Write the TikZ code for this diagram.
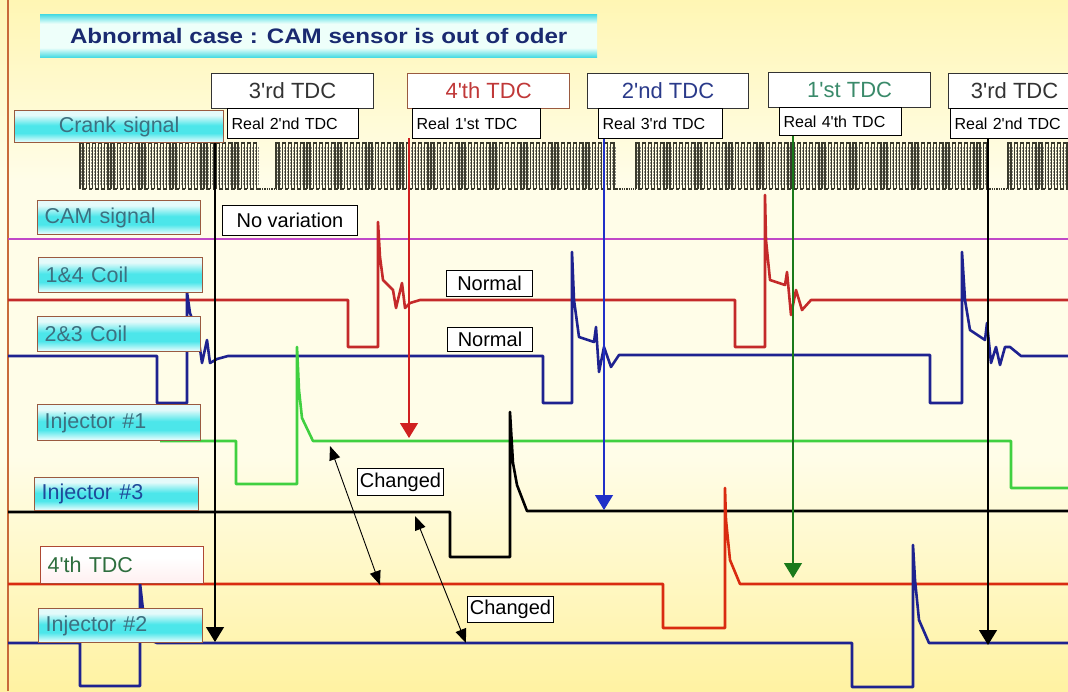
\documentclass[tikz,border=0pt]{standalone}
\usepackage{fontspec}
\usepackage{graphicx}
\setmainfont{Liberation Sans}
\usetikzlibrary{arrows.meta}
\newcommand\ap{\textquotesingle}
\definecolor{bgtop}{HTML}{FFF6B4}
\definecolor{bgmid}{HTML}{FFFDE8}
\definecolor{bgbot}{HTML}{FFF2A2}
\definecolor{tcyan}{HTML}{46DAE2}
\definecolor{tlight}{HTML}{EEFFFA}
\definecolor{lcyan}{HTML}{4CE6EA}
\definecolor{llight}{HTML}{E4FAFA}
\definecolor{lwhite}{HTML}{F6FFFF}
\definecolor{pinkish}{HTML}{FFEFF0}
\definecolor{boxbrown}{HTML}{9A5A40}
\definecolor{lbltext}{HTML}{3D7080}
\definecolor{lbltextb}{HTML}{1F4A9A}
\definecolor{titletext}{HTML}{1A2A70}
\definecolor{borderc}{HTML}{C86A3A}
\definecolor{crankc}{HTML}{3A3A2C}
\definecolor{camc}{HTML}{C048C8}
\definecolor{coilred}{HTML}{C42A2A}
\definecolor{navy}{HTML}{1E2290}
\definecolor{injgreen}{HTML}{40D040}
\definecolor{injred}{HTML}{D92B10}
\definecolor{tdcred}{HTML}{D02020}
\definecolor{tdcblue}{HTML}{2030C8}
\definecolor{tdcgreen}{HTML}{1A7A1A}
\definecolor{tdcnavy}{HTML}{2A3A8A}
\definecolor{tdcteal}{HTML}{3A8A6A}
\definecolor{tdcdark}{HTML}{333333}
\definecolor{tdcredtxt}{HTML}{C03838}
\definecolor{injfour}{HTML}{2E6E3E}

\pgfdeclareverticalshading{bgshade}{100bp}{color(0bp)=(bgbot); color(25bp)=(bgbot); color(42bp)=(bgmid); color(62bp)=(bgmid); color(75bp)=(bgtop); color(100bp)=(bgtop)}
\pgfdeclareverticalshading{titleshade}{100bp}{color(0bp)=(tcyan); color(25bp)=(tcyan); color(36bp)=(tlight); color(64bp)=(tlight); color(75bp)=(tcyan); color(100bp)=(tcyan)}
\pgfdeclareverticalshading{lblshade}{100bp}{color(0bp)=(lwhite); color(25bp)=(lwhite); color(40bp)=(lcyan); color(52bp)=(lcyan); color(68bp)=(llight); color(75bp)=(llight); color(100bp)=(llight)}
\pgfdeclareverticalshading{whiteshade}{100bp}{color(0bp)=(pinkish); color(25bp)=(pinkish); color(60bp)=(white); color(100bp)=(white)}

\newcommand\crankrun[2]{%
  \foreach \k in {1,...,#2}{%
    \pgfmathsetmacro\xa{#1+(\k-1)*6.2}%
    \draw[crank] (\xa,189) -- (\xa,143) -- ++(3.1,0) -- ++(0,46) -- ++(3.1,0);
    \draw[cranktex] (\xa+1.55,147) -- ++(0,38);
    \draw[cranktex] (\xa+4.65,147) -- ++(0,38);
  }}

\tikzset{
  crank/.style={crankc, line width=1.3pt},
  cranktex/.style={crankc!55, line width=0.5pt, dash pattern=on 2pt off 1pt},
  wave/.style={line width=2.6pt, line join=round},
  lbl/.style={draw=boxbrown, line width=1.3pt, shading=lblshade, text=lbltext,
    font=\fontsize{21.5}{22}\selectfont, anchor=north west, inner xsep=7pt, inner ysep=0pt,
    align=left},
  titlebox/.style={shading=titleshade, anchor=north west, inner sep=0pt,
    font=\bfseries\fontsize{21}{21}\selectfont, text=titletext},
  tdcbox/.style={draw=tdcdark, fill=white, line width=1.2pt, anchor=north west,
    inner sep=0pt, minimum height=35pt, font=\fontsize{22}{22}\selectfont},
  realbox/.style={draw=black, fill=white, line width=1.2pt, anchor=north west,
    inner xsep=4pt, inner ysep=0pt, minimum height=30pt, align=left,
    font=\fontsize{16}{16}\selectfont},
  smallbox/.style={draw=black, fill=white, line width=1pt, anchor=north west,
    inner sep=0pt, font=\fontsize{20}{20}\selectfont},
  tdcline/.style={line width=1.2pt, -{Triangle[width=18pt,length=15pt]}},
  chg/.style={line width=0.9pt, {Triangle[width=11pt,length=14pt]}-{Triangle[width=11pt,length=14pt]}}
}

\begin{document}
\begin{tikzpicture}[x=1pt,y=-1pt]
\useasboundingbox (0,0) rectangle (1068,691);
\clip (0,0) rectangle (1068,691);
\shade[shading=bgshade] (0,0) rectangle (1068,691);
\draw[borderc, line width=2.2pt] (8,0) -- (8,691);

% crank teeth
\crankrun{80}{29}
\crankrun{276}{55}
\crankrun{636}{57}
\crankrun{1008}{10}
\draw[crank, densely dotted] (259.8,189) -- (276,189);
\draw[crank, densely dotted] (617,189) -- (636,189);
\draw[crank, densely dotted] (989.4,189) -- (1008,189);

% CAM signal line
\draw[camc, line width=2.6pt] (8,239) -- (1068,239);

% 1&4 coil
\draw[wave, coilred] (8,300) -- (348,300) -- (348,347) -- (378,347) -- (378,222) -- (380,257)
  -- (383,280) -- (393,290) -- (396,308) -- (402,283) -- (405,308) -- (410,303) -- (420,300)
  -- (735,300) -- (735,347) -- (765,347) -- (765,195) -- (766,240) -- (770,280) -- (785,285)
  -- (787,272) -- (791,315) -- (796,290) -- (802,310) -- (811,300) -- (1068,300);

% 2&3 coil
\draw[wave, navy] (8,356) -- (157,356) -- (157,403) -- (187,403) -- (187,292) -- (190,313)
  -- (198,335) -- (202,363) -- (207,340) -- (210,363) -- (217,359) -- (228,356)
  -- (543,356) -- (543,403) -- (572,403) -- (572,252) -- (574,300) -- (579,337) -- (594,342)
  -- (596,327) -- (599,372) -- (604,347) -- (611,367) -- (619,355)
  -- (930,355) -- (930,403) -- (962,403) -- (962,252) -- (965,300) -- (970,330) -- (985,340)
  -- (987,323) -- (991,363) -- (996,347) -- (1000,365) -- (1005,347) -- (1010,347)
  -- (1021,356) -- (1068,356);

% injector 1
\draw[wave, injgreen] (160,441) -- (236,441) -- (236,484) -- (297,484) -- (297,347) -- (299,390)
  -- (302,418) -- (313,441) -- (1011,441) -- (1011,488) -- (1068,488);

% injector 3
\draw[wave, black] (8,512) -- (450,512) -- (450,557) -- (510,557) -- (510,412) -- (513,463)
  -- (517,485) -- (527,511) -- (1068,511);

% injector 4
\draw[wave, injred] (8,584) -- (663,584) -- (663,628) -- (725,628) -- (725,488) -- (726,520)
  -- (730,560) -- (740,584) -- (1068,584);

% injector 2
\draw[wave, navy] (8,643) -- (80,643) -- (80,686) -- (140,686) -- (140,583) -- (143,610)
  -- (150,640) -- (157,643) -- (852,643) -- (852,687) -- (913,687) -- (913,545) -- (915,580)
  -- (919,620) -- (929,643) -- (1068,643);

% TDC vertical lines
\coordinate (tA) at (215,140); \coordinate (bA) at (215,642);
\coordinate (tB) at (409,138); \coordinate (bB) at (409,438);
\coordinate (tC) at (604,138); \coordinate (bC) at (604,510);
\coordinate (tD) at (793,135); \coordinate (bD) at (793,578);
\coordinate (tE) at (988,138); \coordinate (bE) at (988,645);
\draw[tdcline, black] (tA) -- (bA);
\draw[tdcline, tdcred] (tB) -- (bB);
\draw[tdcline, tdcblue] (tC) -- (bC);
\draw[tdcline, tdcgreen] (tD) -- (bD);
\draw[tdcline, black] (tE) -- (bE);

% title
\node[titlebox, minimum width=557pt, minimum height=43pt] (title) at (40,14)
  {\scalebox{1.15}[1]{Abnormal case : CAM sensor is out of oder}};

% top TDC boxes
\node[tdcbox, minimum width=162pt, text=tdcdark] (tdcA) at (211,73) {3\ap rd TDC};
\node[tdcbox, minimum width=162pt, text=tdcredtxt, draw=boxbrown] (tdcB) at (407,73) {4\ap th TDC};
\node[tdcbox, minimum width=161pt, text=tdcnavy] (tdcC) at (587,73) {2\ap nd TDC};
\node[tdcbox, minimum width=162pt, text=tdcteal] (tdcD) at (768,72) {1\ap st TDC};
\node[tdcbox, minimum width=132pt, text=tdcdark] (tdcE) at (948,73) {3\ap rd TDC};

% real TDC boxes
\node[realbox, text width=123pt] (realA) at (227,108) {Real 2\ap nd TDC};
\node[realbox, text width=120pt] (realB) at (412,108) {Real 1\ap st TDC};
\node[realbox, text width=116pt] (realC) at (598,108) {Real 3\ap rd TDC};
\node[realbox, text width=114pt, minimum height=28pt] (realD) at (779,107) {Real 4\ap th TDC};
\node[realbox, text width=122pt] (realE) at (950,108) {Real 2\ap nd TDC};

% signal labels
\node[lbl, text width=195pt, minimum height=32pt, align=center] (crk) at (14,110) {Crank signal};
\node[lbl, text width=149pt, minimum height=34pt] (cam) at (37,200) {CAM signal};
\node[lbl, text width=150pt, minimum height=35pt] (coil14) at (38,257) {1\&4 Coil};
\node[lbl, text width=149pt, minimum height=35pt] (coil23) at (37,316) {2\&3 Coil};
\node[lbl, text width=149pt, minimum height=36pt] (inj1) at (37,404) {Injector \#1};
\node[lbl, text width=150pt, minimum height=33pt, text=lbltextb] (inj3) at (34,477) {Injector \#3};
\node[lbl, text width=149pt, minimum height=37pt, shading=whiteshade, text=injfour, draw=boxbrown!80!red] (inj4) at (40,546) {4\ap th TDC};
\node[lbl, text width=150pt, minimum height=34pt] (inj2) at (38,608) {Injector \#2};

% annotations
\node[smallbox, minimum width=135pt, minimum height=30pt] (novar) at (222,205) {No variation};
\node[smallbox, minimum width=86pt, minimum height=26pt] (norm1) at (446,270) {Normal};
\node[smallbox, minimum width=85pt, minimum height=24pt] (norm2) at (447,327) {Normal};
\node[smallbox, minimum width=86pt, minimum height=27pt] (chg1) at (357,468) {Changed};
\node[smallbox, minimum width=86pt, minimum height=26pt] (chg2) at (467,596) {Changed};

% changed arrows
\coordinate (c1a) at (330,446); \coordinate (c1b) at (380,585);
\coordinate (c2a) at (415,516); \coordinate (c2b) at (466,643);
\draw[chg] (c1a) -- (c1b);
\draw[chg] (c2a) -- (c2b);
\end{tikzpicture}
\end{document}
